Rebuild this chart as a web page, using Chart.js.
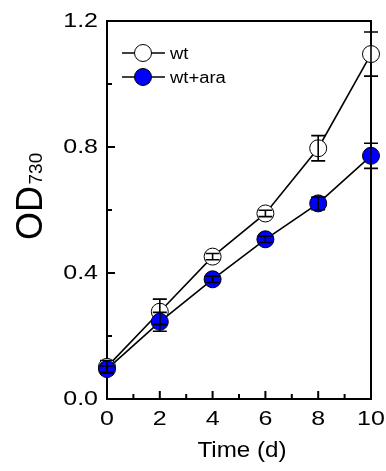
<!DOCTYPE html>
<html>
<head>
<meta charset="utf-8">
<script src="https://cdn.jsdelivr.net/npm/chart.js@4.4.1/dist/chart.umd.min.js"></script>
<style>
html, body { margin: 0; padding: 0; background: #fff; }
#wrap { width: 386px; height: 471px; }
</style>
</head>
<body>
<div id="wrap"><canvas id="chart" width="386" height="471"></canvas></div>
<script>
// data
const days = [0, 2, 4, 6, 8, 10];
const wtOD = [0.102, 0.277, 0.452, 0.589, 0.796, 1.095];
const wtErr = [0.02, 0.04, 0.01, 0.01, 0.04, 0.07];
const araOD = [0.095, 0.245, 0.38, 0.507, 0.621, 0.772];
const araErr = [0.01, 0.03, 0.01, 0.01, 0.02, 0.04];
const seriesNames = ["wt", "wt+ara"];

const yMajor = [0, 0.4, 0.8, 1.2];
const yMinor = [0.2, 0.6, 1.0];
const xMajor = [0, 2, 4, 6, 8, 10];
const xMinor = [1, 3, 5, 7, 9];
const xTitle = "Time (d)";

const FONT = 'Arial, "Liberation Sans", sans-serif';

function pts(ys) { return days.map((d, i) => ({ x: d, y: ys[i] })); }

const errs = [wtErr, araErr];
const vals = [wtOD, araOD];

// the original figure is stretched sideways, so text gets a horizontal scale
function wideText(ctx, txt, x, y, size, sx, align) {
    ctx.save();
    ctx.font = size + "px " + FONT;
    ctx.translate(x, y);
    ctx.scale(sx, 1);
    ctx.textAlign = align;
    ctx.textBaseline = "alphabetic";
    ctx.fillText(txt, 0, 0);
    ctx.restore();
}

const extras = {
    id: "extras",
    beforeDatasetsDraw(chart) {
        const ctx = chart.ctx;
        const a = chart.chartArea;
        const xs = chart.scales.x, ys = chart.scales.y;
        ctx.save();
        ctx.strokeStyle = "#000";
        ctx.lineWidth = 2;
        ctx.strokeRect(a.left, a.top, a.right - a.left, a.bottom - a.top);
        ctx.beginPath();
        xMajor.forEach(v => { const x = xs.getPixelForValue(v); ctx.moveTo(x, a.bottom); ctx.lineTo(x, a.bottom - 8); });
        xMinor.forEach(v => { const x = xs.getPixelForValue(v); ctx.moveTo(x, a.bottom); ctx.lineTo(x, a.bottom - 5); });
        yMajor.forEach(v => { const y = ys.getPixelForValue(v); ctx.moveTo(a.left, y); ctx.lineTo(a.left + 8, y); });
        yMinor.forEach(v => { const y = ys.getPixelForValue(v); ctx.moveTo(a.left, y); ctx.lineTo(a.left + 5, y); });
        ctx.stroke();

        ctx.fillStyle = "#000";
        xMajor.forEach(v => wideText(ctx, String(v), xs.getPixelForValue(v), a.bottom + 26, 20, 1.25, "center"));
        yMajor.forEach(v => wideText(ctx, v.toFixed(1), a.left - 9, ys.getPixelForValue(v) + 6, 20, 1.25, "right"));
        wideText(ctx, xTitle, (a.left + a.right) / 2 + 3, a.bottom + 58, 22, 1.1, "center");

        // y title: OD with subscript 730
        ctx.translate(41.5, 0);
        ctx.rotate(-Math.PI / 2);
        ctx.textBaseline = "alphabetic";
        ctx.textAlign = "left";
        ctx.font = "36px " + FONT;
        ctx.fillText("OD", -240, 0);
        ctx.font = "19px " + FONT;
        ctx.fillText("730", -184.5, 0);
        ctx.restore();
    },
    afterDatasetsDraw(chart) {
        const ctx = chart.ctx;
        const xs = chart.scales.x, ys = chart.scales.y;
        ctx.save();
        ctx.strokeStyle = "#000";
        ctx.lineWidth = 1.6;
        [0, 1].forEach(s => {
            days.forEach((d, i) => {
                const x = xs.getPixelForValue(d);
                const y1 = ys.getPixelForValue(vals[s][i] + errs[s][i]);
                const y2 = ys.getPixelForValue(vals[s][i] - errs[s][i]);
                ctx.beginPath();
                ctx.moveTo(x, y1); ctx.lineTo(x, y2);
                ctx.moveTo(x - 7, y1); ctx.lineTo(x + 7, y1);
                ctx.moveTo(x - 7, y2); ctx.lineTo(x + 7, y2);
                ctx.stroke();
            });
        });

        // legend inside plot, line through marker
        const lx = 122, ly = [53, 77];
        chart.data.datasets.forEach((ds, i) => {
            ctx.beginPath();
            ctx.lineWidth = 1.6;
            ctx.moveTo(lx, ly[i]); ctx.lineTo(lx + 43, ly[i]);
            ctx.stroke();
            ctx.beginPath();
            ctx.arc(lx + 21, ly[i], ds.pointRadius, 0, Math.PI * 2);
            ctx.fillStyle = ds.pointBackgroundColor;
            ctx.fill();
            ctx.lineWidth = 1;
            ctx.stroke();
            ctx.fillStyle = "#000";
            wideText(ctx, seriesNames[i], lx + 48, ly[i] + 6, 16, 1.15, "left");
        });
        ctx.restore();
    }
};

new Chart(document.getElementById("chart"), {
    type: "line",
    data: {
        datasets: [
            {
                label: seriesNames[0],
                data: pts(wtOD),
                borderColor: "#000",
                borderWidth: 1.6,
                pointRadius: 8.5,
                pointBackgroundColor: "#fff",
                pointBorderColor: "#000",
                pointBorderWidth: 1,
                tension: 0,
                clip: false,
                order: 1
            },
            {
                label: seriesNames[1],
                data: pts(araOD),
                borderColor: "#000",
                borderWidth: 1.6,
                pointRadius: 8.5,
                pointBackgroundColor: "#0000ff",
                pointBorderColor: "#000",
                pointBorderWidth: 1,
                tension: 0,
                clip: false,
                order: 0
            }
        ]
    },
    options: {
        responsive: false,
        animation: false,
        layout: { padding: { top: 21, right: 15, left: 107, bottom: 72 } },
        plugins: { legend: { display: false }, tooltip: { enabled: false } },
        scales: {
            x: { type: "linear", min: 0, max: 10, display: false },
            y: { min: 0, max: 1.2, display: false }
        }
    },
    plugins: [extras]
});
</script>
</body>
</html>
